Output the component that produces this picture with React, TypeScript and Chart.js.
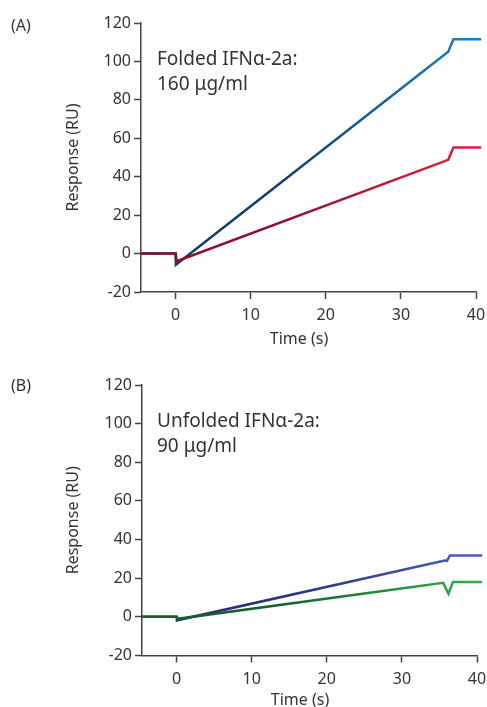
import React, { useEffect, useRef } from "react";
import { Chart, registerables } from "chart.js";

Chart.register(...registerables);

// ---- data ----
const xTicks = [0, 10, 20, 30, 40];
const yTicks = [-20, 0, 20, 40, 60, 80, 100, 120];

const foldedBlueT = [-4.6, 0, 0.05, 36.3, 37, 40.7];
const foldedBlueY = [0, 0, -5.8, 105, 111.5, 111.5];
const foldedRedT = [-4.6, 0, 0.15, 36.3, 37, 40.7];
const foldedRedY = [0, 0, -4, 48.8, 55.2, 55.2];

const unfoldedNavyT = [-4.6, 0, 0.05, 35.7, 36.0, 36.4, 40.7];
const unfoldedNavyY = [0, 0, -1.8, 29.2, 29.0, 31.8, 31.8];
const unfoldedGreenT = [-4.6, 0, 0.15, 35.5, 36.2, 36.8, 40.7];
const unfoldedGreenY = [0, 0, -1.0, 17.6, 12, 18, 18];

const FONT = "'Noto Sans', 'Open Sans', sans-serif";
const TEXT = "#333333";
const AXIS = "#444444";

function pts(t: number[], y: number[]) {
  return t.map((v, i) => ({ x: v, y: y[i] }));
}

function grad(c1: string, c2: string) {
  return (ctx: any) => {
    const chart = ctx.chart;
    const area = chart.chartArea;
    if (!area) return c2;
    const g = chart.ctx.createLinearGradient(area.left, 0, area.right, 0);
    g.addColorStop(0, c1);
    g.addColorStop(0.4, c1);
    g.addColorStop(1, c2);
    return g;
  };
}

type Spec = {
  datasets: any[];
  padTop: number;
  padRight: number;
  yWidth: number;
  xHeight: number;
};

function PanelChart({ spec, width, height }: { spec: Spec; width: number; height: number }) {
  const ref = useRef<HTMLCanvasElement | null>(null);
  useEffect(() => {
    if (!ref.current) return;
    const chart = new Chart(ref.current, {
      type: "line",
      data: { datasets: spec.datasets },
      options: {
        animation: false,
        responsive: false,
        maintainAspectRatio: false,
        layout: { padding: { top: spec.padTop, right: spec.padRight, left: 0, bottom: 0 } },
        plugins: { legend: { display: false }, tooltip: { enabled: false } },
        elements: { point: { radius: 0 }, line: { tension: 0 } },
        scales: {
          x: {
            type: "linear",
            min: -4.6,
            max: 40,
            afterBuildTicks: (s: any) => {
              s.ticks = xTicks.map((v) => ({ value: v }));
            },
            afterFit: (s: any) => {
              s.height = spec.xHeight;
              s.paddingLeft = 0;
              s.paddingRight = 0;
            },
            grid: { drawOnChartArea: false, drawTicks: true, tickLength: 7, tickColor: AXIS, tickWidth: 1.5 },
            border: { color: AXIS, width: 1.5 },
            ticks: { color: TEXT, font: { family: FONT, size: 16 }, padding: 7, maxRotation: 0 },
            title: { display: false },
          },
          y: {
            type: "linear",
            min: -20,
            max: 120,
            afterBuildTicks: (s: any) => {
              s.ticks = yTicks.map((v) => ({ value: v }));
            },
            afterFit: (s: any) => {
              s.width = spec.yWidth;
              s.paddingTop = 0;
              s.paddingBottom = 0;
            },
            grid: { drawOnChartArea: false, drawTicks: true, tickLength: 7, tickColor: AXIS, tickWidth: 1.5 },
            border: { color: AXIS, width: 1.5 },
            ticks: { color: TEXT, font: { family: FONT, size: 16 }, padding: 3 },
            title: {
              display: true,
              text: "Response (RU)",
              color: TEXT,
              font: { family: FONT, size: 16, lineHeight: 1.2 },
              padding: { top: 64, bottom: 0 },
            },
          },
        },
      },
    });
    return () => chart.destroy();
  }, [spec]);
  return <canvas ref={ref} width={width} height={height} style={{ display: "block", width, height }} />;
}

const specA: Spec = {
  datasets: [
    {
      data: pts(foldedRedT, foldedRedY),
      borderColor: grad("#8e0f2c", "#e31f3d"),
      borderWidth: 2.5,
      clip: false,
    },
    {
      data: pts(foldedBlueT, foldedBlueY),
      borderColor: grad("#0d3b6a", "#1c7fca"),
      borderWidth: 2.5,
      clip: false,
    },
  ],
  padTop: 23,
  padRight: 11,
  yWidth: 141,
  xHeight: 58,
};

const specB: Spec = {
  datasets: [
    {
      data: pts(unfoldedGreenT, unfoldedGreenY),
      borderColor: grad("#15602b", "#2cb24b"),
      borderWidth: 2.5,
      clip: false,
    },
    {
      data: pts(unfoldedNavyT, unfoldedNavyY),
      borderColor: grad("#2a2f7e", "#4a5fb2"),
      borderWidth: 2.5,
      clip: false,
    },
  ],
  padTop: 30,
  padRight: 10,
  yWidth: 142,
  xHeight: 59.5,
};

const labelStyle: React.CSSProperties = {
  position: "absolute",
  fontFamily: FONT,
  color: TEXT,
  whiteSpace: "nowrap",
};

export default function App() {
  return (
    <div style={{ position: "fixed", left: 0, top: 0, width: 487, height: 707, overflow: "hidden", background: "#fff" }}>
      <div style={{ position: "absolute", left: 0, top: 0 }}>
        <PanelChart spec={specA} width={487} height={350} />
      </div>
      <div style={{ position: "absolute", left: 0, top: 355 }}>
        <PanelChart spec={specB} width={487} height={360} />
      </div>
      <div style={{ ...labelStyle, left: 11, top: 14, fontSize: 16 }}>(A)</div>
      <div style={{ ...labelStyle, left: 11, top: 374, fontSize: 16 }}>(B)</div>
      <div style={{ ...labelStyle, left: 157, top: 46, fontSize: 19, lineHeight: "25px" }}>
        Folded IFNα-2a:
        <br />
        160 μg/ml
      </div>
      <div style={{ ...labelStyle, left: 157, top: 408, fontSize: 19, lineHeight: "25px" }}>
        Unfolded IFNα-2a:
        <br />
        90 μg/ml
      </div>
      <div style={{ ...labelStyle, left: 299, top: 338, fontSize: 16, lineHeight: "20px", transform: "translate(-50%, -50%)" }}>
        Time (s)
      </div>
      <div style={{ ...labelStyle, left: 300, top: 699, fontSize: 16, lineHeight: "20px", transform: "translate(-50%, -50%)" }}>
        Time (s)
      </div>
    </div>
  );
}
